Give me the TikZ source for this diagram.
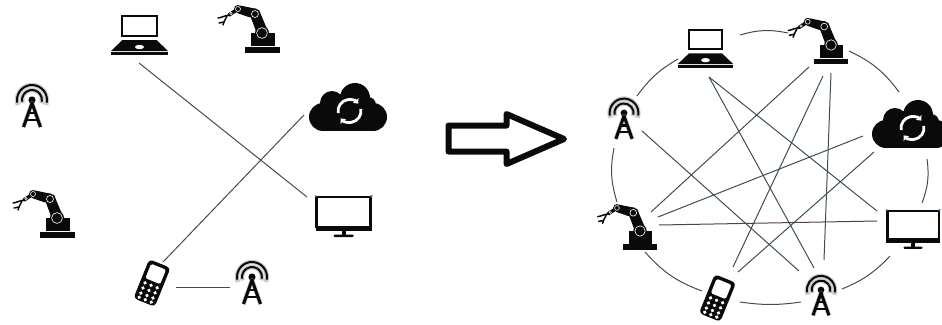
\documentclass[tikz,border=0pt]{standalone}
\usetikzlibrary{arrows.meta,calc}
\definecolor{linkc}{HTML}{3E4E54}
\definecolor{linkr}{HTML}{54423F}
\definecolor{icon}{HTML}{0A0A0A}
\definecolor{halo}{HTML}{9A9A9A}
\definecolor{dotc}{HTML}{3C8AD8}
\tikzset{
  x=1pt,y=-1pt,
  link/.style={draw=linkc,line width=1pt},
  linkred/.style={draw=linkr,line width=1pt},
  bigarrow/.style={draw=icon,line width=6pt,line join=round,fill=white},
  iconLaptop/.pic={
    \draw[icon,line width=2pt,fill=white] (-17.5,-19) rectangle (17.5,1);
    \fill[icon] (-17,5) -- (17,5) -- (28.5,16) -- (-28.5,16) -- cycle;
    \fill[white] (0,12) ellipse (4.5 and 2.2);
    \fill[icon] (-28.5,17.3) rectangle (28.5,20);
  },
  iconRobot/.pic={
    \fill[icon] (-17.5,14) rectangle (18,20);
    \fill[icon] (-11.3,0) rectangle (12.7,13.4);
    \fill[icon] (-3,-23) -- (6.3,-1) -- (-5.3,0) -- (-11.3,-16) -- cycle;
    \fill[icon] (-5,-24) -- (-22,-27.5) -- (-25,-20) -- (-12,-15.5) -- cycle;
    \fill[icon] (0,0) circle (7) (-7,-19) circle (5.5) (-24,-24) circle (4);
    \draw[icon,line width=3.5pt,line cap=round] (-24,-24) -- (-33,-18);
    \draw[icon,line width=1.5pt,line cap=round] (-33,-18) .. controls (-38,-17) and (-42,-15) .. (-44,-15);
    \draw[icon,line width=1.5pt,line cap=round] (-35,-17) -- (-38,-11) -- (-43,-10);
    \draw[icon,line width=1.5pt,line cap=round] (-38,-11) -- (-39,-8);
    \draw[white,line width=0.6pt] (0,0) circle (5.4);
    \draw[white,line width=0.6pt] (-7,-19) circle (3.5);
    \draw[white,line width=0.6pt] (-24,-24) circle (2.5);
    \draw[white,line width=0.5pt] (-31,-19.5) circle (1.2);
  },
  iconTower/.pic={
    \foreach \r in {15,10}{
      \draw[halo,line width=4.5pt,opacity=.5] (0,0) ++(160:\r) arc[start angle=160,end angle=380,radius=\r];
      \draw[icon,line width=2pt] (0,0) ++(170:\r) arc[start angle=170,end angle=370,radius=\r];
    }
    \fill[icon] (0,0) circle (3.6);
    \draw[halo,line width=4.5pt,line join=round,opacity=.5] (-8.5,27) -- (0,3) -- (8.5,27);
    \draw[icon,line width=3pt,line join=round] (-8.5,27) -- (0,3) -- (8.5,27);
    \draw[icon,line width=2.4pt] (-4,13) -- (4,13) (-6,20) -- (6,20);
  },
  iconPhone/.pic={
    \begin{scope}[rotate=-22]
      \fill[icon,rounded corners=4pt] (-11.5,-21) rectangle (11.5,21);
      \fill[white,rounded corners=1.5pt] (-8,-17.5) rectangle (8,-2);
      \foreach \cx in {-6.5,0,6.5}\foreach \cy in {2.5,8,13.5,18}
        \fill[white] (\cx,\cy) circle (1.9);
    \end{scope}
  },
  iconCloud/.pic={
    \fill[icon] (-25,7) circle (14) (-16,-7) circle (12) (7,-12) circle (15)
      (25,7) circle (14) (20,-5) circle (8);
    \fill[icon] (-25,7) rectangle (25,21);
    \fill[icon] (-16,-7) rectangle (20,10);
    \begin{scope}[shift={(1.5,1)}]
      \draw[white,line width=2.8pt,-{Triangle[length=4pt,width=7pt]}] (0,0) ++(170:11.5) arc[start angle=170,end angle=320,radius=11.5];
      \draw[white,line width=2.8pt,-{Triangle[length=4pt,width=7pt]}] (0,0) ++(350:11.5) arc[start angle=-10,end angle=140,radius=11.5];
    \end{scope}
  },
  iconMonitor/.pic={
    \draw[icon,line width=2.3pt,fill=white] (-27,1) rectangle (27,31);
    \fill[icon] (-28,30) rectangle (28,34.5);
    \fill[icon] (-2,34) rectangle (2,39);
    \fill[icon,rounded corners=1pt] (-10,38.5) rectangle (10,41);
    \fill[dotc] (-28,0) circle (1) (28,0) circle (1.3);
  },
}
\begin{document}
\begin{tikzpicture}
\clip (0,0) rectangle (942,324);
% ---------- left network ----------
\pic at (139.5,35) {iconLaptop};
\pic at (262,33) {iconRobot};
\pic at (32,100) {iconTower};
\pic at (57,218) {iconRobot};
\pic at (152,283) {iconPhone};
\pic at (252,277) {iconTower};
\pic at (348,110) {iconCloud};
\pic at (343.5,196) {iconMonitor};
\coordinate (Llap) at (139,63);
\coordinate (Lmon) at (307,197);
\coordinate (Lphn) at (163,262);
\coordinate (Lcld) at (304,115);
\coordinate (Lphr) at (176,287);
\coordinate (Ltow) at (230,287);
\draw[link] (Llap) -- (Lmon);
\draw[link] (Lphn) -- (Lcld);
\draw[linkred] (Lphr) -- (Ltow);
% ---------- arrow ----------
\draw[bigarrow] (448.5,125.5) -- (506.5,125.5) -- (506.5,114) -- (564,139) -- (506.5,164) -- (506.5,151.5) -- (448.5,151.5) -- cycle;
% ---------- right network ----------
\pic[scale=.97] at (705.5,48.5) {iconLaptop};
\pic[scale=.97] at (831,45) {iconRobot};
\pic[scale=.96] at (624,113) {iconTower};
\pic[scale=.96] at (640,231) {iconRobot};
\pic at (717.5,298) {iconPhone};
\pic[scale=.94] at (821,290) {iconTower};
\pic at (911,127) {iconCloud};
\pic[scale=.95] at (913,210) {iconMonitor};
% ring ends
\coordinate (ra1) at (740,35);  \coordinate (ra2) at (788,33);
\coordinate (rb1) at (849,51);  \coordinate (rb2) at (899,92);
\coordinate (rc1) at (637,96);  \coordinate (rc2) at (678,59);
\coordinate (rd1) at (617,202); \coordinate (rd2) at (614,148);
\coordinate (re1) at (927,159); \coordinate (re2) at (922,203);
\coordinate (rf1) at (702,291); \coordinate (rf2) at (645,252);
\coordinate (rg1) at (801,302); \coordinate (rg2) at (740,302);
\coordinate (rh1) at (890,256); \coordinate (rh2) at (842,289);
\draw[linkred] (ra1) to[bend left=14] (ra2);
\draw[link] (rb1) to[bend left=14] (rb2);
\draw[link] (rc1) to[bend left=12] (rc2);
\draw[link] (rd1) to[bend left=14] (rd2);
\draw[link] (re1) to[bend left=14] (re2);
\draw[link] (rf1) to[bend left=14] (rf2);
\draw[link] (rg1) to[bend left=8] (rg2);
\draw[link] (rh1) to[bend left=12] (rh2);
% chords
\coordinate (sLap) at (709,77);
\coordinate (sMonA) at (877,211);
\coordinate (sTowA) at (814,268);
\coordinate (sAntL) at (642,131);
\coordinate (sTowB) at (799,271);
\coordinate (sRobA) at (809,67);
\coordinate (sRb2A) at (651,212);
\coordinate (sRobB) at (823,76);
\coordinate (sPhA) at (733,267);
\coordinate (sRobC) at (831,73);
\coordinate (sTowC) at (824,260);
\coordinate (sCldA) at (863,136);
\coordinate (sRb2B) at (658,217);
\coordinate (sCldB) at (874,152);
\coordinate (sPhB) at (738,272);
\coordinate (sRb2C) at (659,225);
\coordinate (sMonB) at (877,221);
\draw[link] (sLap) -- (sMonA);
\draw[link] (sLap) -- (sTowA);
\draw[link] (sAntL) -- (sTowB);
\draw[link] (sRobA) -- (sRb2A);
\draw[link] (sRobB) -- (sPhA);
\draw[link] (sRobC) -- (sTowC);
\draw[link] (sCldA) -- (sRb2B);
\draw[link] (sCldB) -- (sPhB);
\draw[linkred] (sRb2C) -- (sMonB);
\end{tikzpicture}
\end{document}
